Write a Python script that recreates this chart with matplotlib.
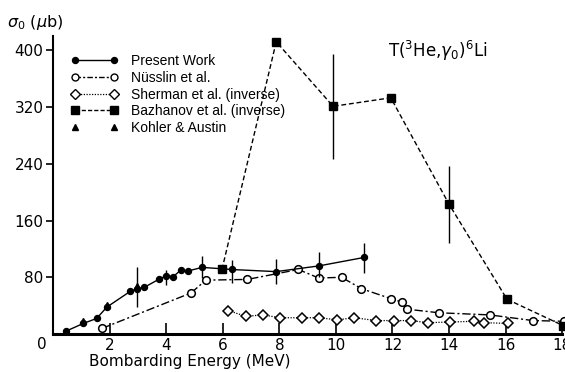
"""T(3He, gamma0)6Li cross section vs bombarding energy -- four data sets plus Kohler & Austin."""

import matplotlib

matplotlib.use("Agg")
import matplotlib.pyplot as plt
from matplotlib.lines import Line2D

plt.rcParams["font.family"] = ["DejaVu Sans"]

# Present work (filled circles, solid)
pw_e = [0.45, 1.07, 1.54, 1.90, 2.72, 2.98, 3.23, 3.73, 3.99, 4.25, 4.51, 4.78, 5.27, 6.31, 7.88, 9.39, 11.0]
pw_s = [4, 15, 22, 38, 60, 64, 66, 77, 82, 81, 90, 89, 94, 91, 88, 96, 108]
pw_lo = [0, 0, 0, 4, 0, 26, 0, 0, 13, 0, 0, 0, 15, 19, 18, 16, 22]
pw_hi = [0, 0, 0, 4, 0, 31, 0, 0, 8, 0, 0, 0, 16, 13, 18, 20, 21]

# Nuesslin et al. (open circles, dash-dot)
nu_e = [1.73, 4.88, 5.40, 6.87, 8.67, 9.39, 10.2, 10.9, 11.94, 12.33, 12.53, 13.64, 15.44, 16.97, 18.06]
nu_s = [8, 58, 76, 77, 91, 79, 80, 64, 50, 45, 35, 30, 27, 19, 18]

# Sherman et al. (inverse) (open diamonds, dotted)
sh_e = [6.2, 6.81, 7.42, 8.02, 8.8, 9.41, 10.05, 10.64, 11.43, 12.06, 12.65, 13.25, 14.05, 14.88, 15.25, 16.08]
sh_s = [33, 25, 27, 23, 23, 23, 20, 23, 19, 19, 19, 16, 17, 18, 16, 15]

# Bazhanov et al. (inverse) (filled squares, dashed)
bz_e = [5.97, 7.89, 9.9, 11.94, 14.0, 16.05, 18.03]
bz_s = [91, 412, 321, 333, 183, 49, 12]
bz_lo = [0, 0, 74, 0, 55, 0, 0]
bz_hi = [0, 0, 74, 0, 54, 0, 0]

# Kohler & Austin (filled triangles)
ka_e = [1.07, 1.90, 2.98]
ka_s = [18, 41, 68]

fig = plt.figure(figsize=(5.65, 3.72), dpi=100)
ax = fig.add_axes([0.094, 0.102, 0.901, 0.801])

ms = 4.3
ax.errorbar(pw_e, pw_s, yerr=[pw_lo, pw_hi], color="black", lw=1.0, marker="o", ms=ms,
            elinewidth=1.0, capsize=0, clip_on=False, zorder=4)
ax.plot(nu_e, nu_s, color="black", lw=1.0, ls=(0, (6, 2, 1.5, 2)), marker="o", ms=5.5,
        mfc="white", mew=1.1, clip_on=False, zorder=3)
ax.plot(sh_e, sh_s, color="black", lw=0.9, ls=(0, (1, 1.2)), marker="D", ms=5,
        mfc="white", mew=1.1, clip_on=False, zorder=3)
ax.errorbar(bz_e, bz_s, yerr=[bz_lo, bz_hi], color="black", lw=1.0, ls=(0, (3.5, 2)),
            marker="s", ms=5.5, elinewidth=1.0, capsize=0, clip_on=False, zorder=3)
ax.plot(ka_e, ka_s, ls="none", color="black", marker="^", ms=5, clip_on=False, zorder=5)

ax.set_xlim(0, 18)
ax.set_ylim(0, 420)
ax.set_xticks(range(0, 19, 2))
ax.set_xticklabels([""] + [str(v) for v in range(2, 19, 2)])
ax.set_yticks([80, 160, 240, 320, 400])
ax.tick_params(axis="x", direction="in", length=8, width=1.2, labelsize=11, pad=3)
ax.tick_params(axis="y", direction="out", length=5, width=1.2, labelsize=11, pad=2)
for s in ("top", "right"):
    ax.spines[s].set_visible(False)
ax.spines["left"].set_linewidth(1.5)
ax.spines["bottom"].set_linewidth(2.2)

ax.text(-0.012, -0.01, "0", transform=ax.transAxes, ha="right", va="top", fontsize=11)
fig.text(0.012, 0.94, r"$\sigma_0$ ($\mu$b)", ha="left", va="center", fontsize=11.5)
fig.text(0.335, 0.027, "Bombarding Energy (MeV)", ha="center", va="center", fontsize=11)
ax.text(0.756, 0.95, r"T($^3$He,$\gamma_0$)$^6$Li", transform=ax.transAxes, ha="center",
        va="center", fontsize=12)

handles = [
    Line2D([], [], color="black", lw=1.0, marker="o", ms=ms),
    Line2D([], [], color="black", lw=1.0, ls=(0, (4, 1.5, 1.5, 1.5)), marker="o", ms=5, mfc="white"),
    Line2D([], [], color="black", lw=0.9, ls=(0, (1, 1.2)), marker="D", ms=5, mfc="white"),
    Line2D([], [], color="black", lw=1.0, ls=(0, (3, 1.5)), marker="s", ms=5.5),
    Line2D([], [], color="black", ls="none", marker="^", ms=5),
]
labels = ["Present Work", "Nüsslin et al.", "Sherman et al. (inverse)",
          "Bazhanov et al. (inverse)", "Kohler & Austin"]
ax.legend(handles, labels, loc="upper left", bbox_to_anchor=(0.035, 0.94), frameon=False,
          numpoints=2, handlelength=3.4, handletextpad=0.9, labelspacing=0.2,
          prop={"family": "Liberation Sans", "size": 10}, borderaxespad=0, borderpad=0)

fig.savefig("out.png", dpi=100)
